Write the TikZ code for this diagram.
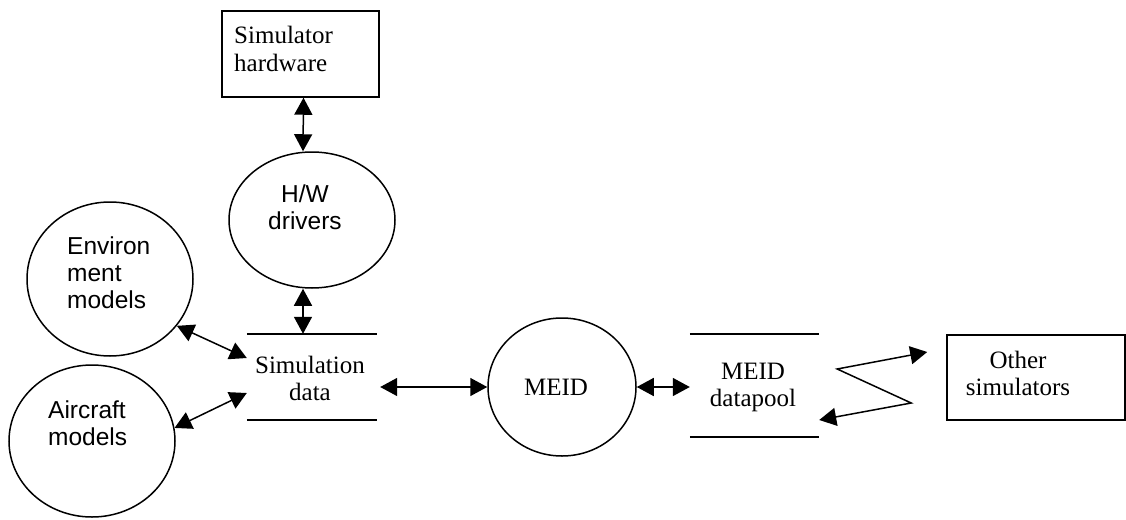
\documentclass[tikz,border=0pt]{standalone}
\usepackage{fontspec}
\setmainfont{Liberation Serif}
\newfontfamily\arialf{Liberation Sans}
\usetikzlibrary{arrows.meta,shapes.geometric}
\begin{document}
\begin{tikzpicture}[x=1pt,y=1pt,
  blob/.style={ellipse, draw, line width=1.5pt, inner sep=0pt},
  box/.style={rectangle, draw, line width=1.5pt, inner sep=0pt},
  store/.style={rectangle, inner sep=0pt},
  storeline/.style={line width=1.5pt},
  serif/.style={font=\fontsize{25}{27}\selectfont, align=center, inner sep=0pt},
  seriflft/.style={font=\fontsize{25}{28}\selectfont, align=left, inner sep=0pt},
  sans/.style={font=\arialf\fontsize{24.5}{27}\selectfont, align=left, inner sep=0pt},
  conn/.style={line width=1.5pt, {Triangle[length=17pt,width=18pt]}-{Triangle[length=17pt,width=18pt]}}
]
\useasboundingbox (0,0) rectangle (1126,-519);

% shapes
\node[box, minimum width=157pt, minimum height=86pt] (hwbox) at (300.5,-54) {};
\node[blob, minimum width=166pt, minimum height=136pt] (hwdrv) at (312,-220) {};
\node[blob, minimum width=166pt, minimum height=154pt] (env) at (110,-279) {};
\node[blob, minimum width=166pt, minimum height=152pt] (air) at (92,-441) {};
\node[store, minimum width=130pt, minimum height=86pt] (simdata) at (312,-377) {};
\node[blob, minimum width=148pt, minimum height=138pt] (meid) at (562,-387) {};
\node[store, minimum width=129pt, minimum height=103pt] (pool) at (754.5,-385.5) {};
\node[box, minimum width=178pt, minimum height=85pt] (other) at (1036,-377.5) {};

\draw[storeline] (simdata.north west) -- (simdata.north east);
\draw[storeline] (simdata.south west) -- (simdata.south east);
\draw[storeline] (pool.north west) -- (pool.north east);
\draw[storeline] (pool.south west) -- (pool.south east);

% texts
\node[seriflft, anchor=west] (hwboxt) at (234,-49) {Simulator\\hardware};
\node[sans, align=center] (hwdrvt) at (305,-207) {H/W\\drivers};
\node[sans, anchor=west] (envt) at (67,-273) {Environ\\ment\\models};
\node[sans, anchor=west] (airt) at (48,-423.5) {Aircraft\\models};
\node[serif] (simdatat) at (310,-378) {Simulation\\data};
\node[serif] (meidt) at (556,-387) {MEID};
\node[serif] (poolt) at (753,-387.5) {MEID\\datapool};
\node[serif] (othert) at (1018,-373) {Other\\simulators};

% connectors
\draw[conn] ([xshift=3pt]hwbox.south) -- ([xshift=-9pt]hwdrv.north);
\draw[conn] ([xshift=-9pt]hwdrv.south) -- ([xshift=-9pt]simdata.north);
\draw[conn] (env.-35.6) -- ([yshift=19pt]simdata.west);
\draw[conn] (air.9.6) -- ([yshift=-16pt]simdata.west);
\draw[conn] ([shift={(3pt,-10pt)}]simdata.east) -- (meid.west);
\draw[conn] (meid.east) -- (meid.east -| pool.west);
\draw[conn] ([yshift=-34.5pt]pool.east) -- ++(92,17) -- ++(-74,34) -- ([shift={(-19pt,25.5pt)}]other.west);
\end{tikzpicture}
\end{document}
